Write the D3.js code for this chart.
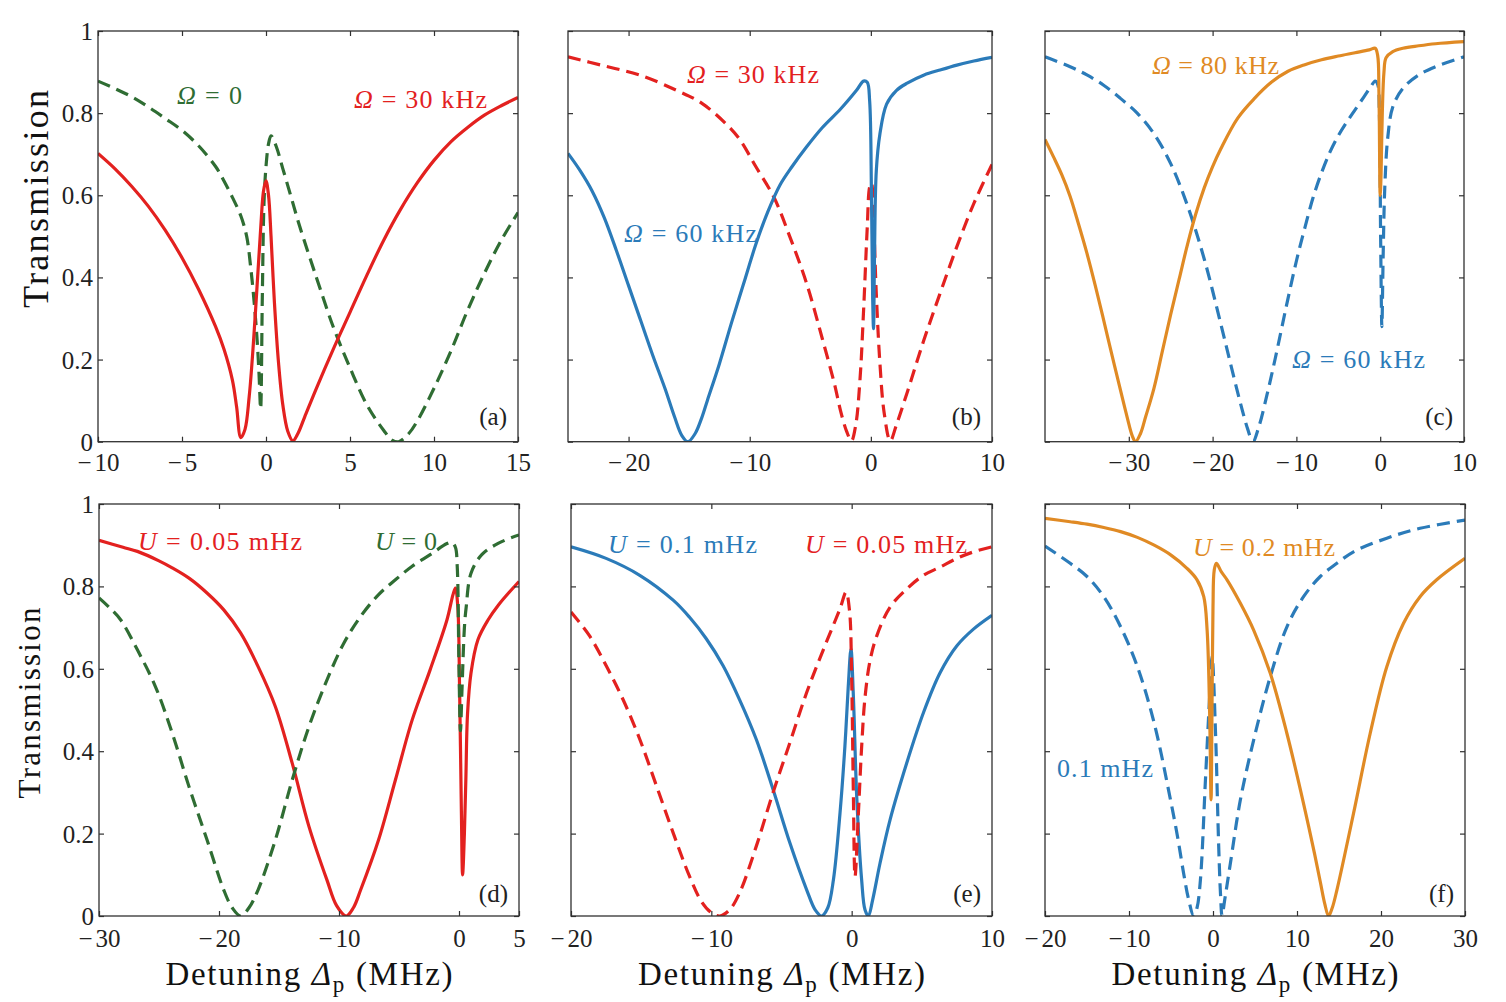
<!DOCTYPE html>
<html><head><meta charset="utf-8">
<script src="https://cdn.jsdelivr.net/npm/d3@7"></script>
<style>
html,body{margin:0;padding:0;background:#fff;}
svg{display:block;font-family:"Liberation Serif","Times New Roman",serif;}
</style></head><body>
<svg id="chart" width="1506" height="1002"></svg>
<script>
// ---------------- DATA ----------------
// y axis (transmission) shared by all panels
const yTickValues = [0, 0.2, 0.4, 0.6, 0.8, 1];
const yTickLabels = ["0", "0.2", "0.4", "0.6", "0.8", "1"];

// x-axis domains and tick values (detuning, MHz)
const xDomainA = [-10, 15], xTicksA = [-10, -5, 0, 5, 10, 15];
const xDomainB = [-25, 10], xTicksB = [-20, -10, 0, 10];
const xDomainC = [-40, 10], xTicksC = [-30, -20, -10, 0, 10];
const xDomainD = [-30, 5],  xTicksD = [-30, -20, -10, 0, 5];
const xDomainE = [-20, 10], xTicksE = [-20, -10, 0, 10];
const xDomainF = [-20, 30], xTicksF = [-20, -10, 0, 10, 20, 30];

// (a) Omega = 0 (dashed) and Omega = 30 kHz (solid)
const aOmega0 = [[-10,0.878],[-9,0.86],[-8,0.84],[-7,0.815],[-6,0.787],[-5,0.758],[-4,0.72],[-3,0.67],[-2.5,0.635],[-2,0.595],[-1.5,0.55],[-1.15,0.5],[-0.9,0.42],[-0.75,0.36],[-0.55,0.26],[-0.42,0.17],[-0.32,0.08],[-0.22,0.35],[-0.12,0.58],[0,0.67],[0.15,0.725],[0.3,0.745],[0.6,0.72],[1,0.665],[1.5,0.595],[2,0.525],[3,0.4],[4,0.28],[5,0.18],[6,0.09],[7,0.028],[7.5,0.004],[7.9,0.0],[8.5,0.02],[9,0.05],[10,0.13],[11,0.22],[12,0.32],[13,0.41],[14,0.49],[15,0.558]];
const aOmega30 = [[-10,0.702],[-9,0.665],[-8,0.622],[-7,0.573],[-6,0.515],[-5,0.448],[-4,0.37],[-3,0.28],[-2.5,0.225],[-2,0.15],[-1.75,0.085],[-1.5,0.01],[-1.25,0.03],[-1,0.11],[-0.75,0.24],[-0.5,0.40],[-0.3,0.53],[-0.15,0.61],[0,0.635],[0.15,0.6],[0.3,0.5],[0.5,0.34],[0.75,0.19],[1,0.09],[1.3,0.025],[1.6,0.002],[1.9,0.02],[2.3,0.06],[3,0.13],[4,0.225],[5,0.315],[6,0.405],[7,0.49],[8,0.565],[9,0.63],[10,0.685],[11,0.73],[12,0.765],[13,0.795],[14,0.818],[15,0.838]];

// (b) Omega = 30 kHz (dashed) and Omega = 60 kHz (solid)
const bOmega30 = [[-25,0.937],[-22,0.915],[-19,0.892],[-16,0.855],[-14,0.825],[-12,0.775],[-10.8,0.735],[-9.5,0.67],[-8,0.595],[-6.7,0.5],[-5.3,0.385],[-4,0.25],[-3,0.14],[-2.5,0.075],[-2,0.025],[-1.6,0.002],[-1.25,0.04],[-0.9,0.15],[-0.6,0.32],[-0.3,0.52],[-0.1,0.62],[0.05,0.63],[0.2,0.56],[0.45,0.36],[0.75,0.19],[1.1,0.07],[1.6,0.002],[2.1,0.04],[3,0.12],[4.35,0.245],[5.7,0.36],[7.1,0.475],[8.5,0.58],[10,0.675]];
const bOmega60 = [[-25,0.702],[-24,0.66],[-23,0.61],[-22,0.545],[-21,0.465],[-20,0.38],[-19,0.295],[-18,0.21],[-17,0.13],[-16.2,0.06],[-15.6,0.015],[-15.1,0.0],[-14.5,0.02],[-14,0.055],[-13.5,0.1],[-12.5,0.19],[-11.5,0.29],[-10.5,0.385],[-9.5,0.48],[-8.5,0.56],[-7.5,0.625],[-6.5,0.67],[-5.3,0.718],[-4,0.765],[-2.5,0.81],[-1.2,0.855],[-0.6,0.878],[-0.3,0.875],[-0.1,0.83],[0.05,0.6],[0.15,0.35],[0.22,0.275],[0.3,0.45],[0.45,0.66],[0.75,0.75],[1.3,0.822],[2.1,0.855],[3,0.873],[4.4,0.893],[5.7,0.905],[7.1,0.917],[8.5,0.927],[10,0.936]];

// (c) Omega = 60 kHz (dashed) and Omega = 80 kHz (solid)
const cOmega60 = [[-40,0.937],[-37,0.913],[-35,0.893],[-33,0.868],[-31,0.836],[-29,0.8],[-27,0.75],[-25,0.677],[-23,0.575],[-21,0.445],[-19,0.285],[-17.5,0.16],[-16.5,0.08],[-15.8,0.03],[-15.2,0.0],[-14.5,0.035],[-13.5,0.115],[-12.5,0.205],[-11.2,0.33],[-10,0.44],[-9,0.52],[-8,0.595],[-7,0.655],[-6,0.705],[-5,0.745],[-4,0.778],[-3,0.808],[-2,0.838],[-1.2,0.862],[-0.6,0.878],[-0.3,0.87],[-0.1,0.8],[0.05,0.5],[0.2,0.28],[0.35,0.45],[0.55,0.62],[0.9,0.74],[1.5,0.815],[2.7,0.86],[4.6,0.893],[6.6,0.913],[10,0.937]];
const cOmega80 = [[-40,0.736],[-39,0.694],[-38,0.65],[-37,0.597],[-36,0.53],[-35,0.459],[-34,0.38],[-33,0.296],[-32,0.21],[-31,0.126],[-30.2,0.06],[-29.6,0.015],[-29.2,0.0],[-28.6,0.02],[-28,0.06],[-27,0.13],[-26,0.22],[-25,0.31],[-24,0.395],[-23,0.48],[-22,0.555],[-21,0.618],[-20,0.67],[-19,0.714],[-17,0.788],[-15,0.836],[-13,0.875],[-11,0.902],[-9,0.918],[-7,0.93],[-5,0.939],[-3,0.947],[-1.3,0.954],[-0.6,0.958],[-0.3,0.94],[-0.15,0.85],[0,0.6],[0.1,0.65],[0.25,0.8],[0.45,0.9],[0.7,0.935],[1.5,0.95],[2.7,0.958],[4.6,0.964],[6.6,0.969],[10,0.974]];

// (d) U = 0 (dashed) and U = 0.05 mHz (solid)
const dU0 = [[-30,0.772],[-29,0.745],[-28.2,0.719],[-26.8,0.646],[-25.3,0.557],[-23.9,0.444],[-22.5,0.314],[-21,0.185],[-19.6,0.063],[-18.9,0.02],[-18.2,0.0],[-17.5,0.02],[-16.75,0.063],[-15.3,0.185],[-13.9,0.33],[-12.5,0.46],[-11,0.573],[-9.6,0.662],[-8.2,0.727],[-6.7,0.78],[-5.3,0.816],[-3.9,0.849],[-2.4,0.877],[-1,0.904],[-0.6,0.907],[-0.3,0.895],[-0.15,0.85],[0,0.6],[0.12,0.45],[0.25,0.55],[0.45,0.7],[0.6,0.75],[1.0,0.832],[1.9,0.877],[3.3,0.905],[5,0.925]];
const dU005 = [[-30,0.912],[-28,0.895],[-26.8,0.885],[-25,0.862],[-23.9,0.845],[-22.5,0.82],[-21,0.784],[-19.6,0.743],[-18.2,0.687],[-16.75,0.606],[-15.3,0.508],[-13.9,0.371],[-12.5,0.217],[-11,0.087],[-10.2,0.025],[-9.4,0.0],[-8.8,0.02],[-8.2,0.063],[-6.7,0.185],[-5.3,0.33],[-3.9,0.476],[-2.4,0.598],[-1,0.719],[-0.5,0.78],[-0.3,0.796],[-0.1,0.75],[0.05,0.55],[0.2,0.25],[0.3,0.1],[0.45,0.2],[0.57,0.33],[0.71,0.49],[1.0,0.59],[1.57,0.67],[2.43,0.719],[3.29,0.755],[5,0.812]];

// (e) U = 0.05 mHz (dashed) and U = 0.1 mHz (solid)
const eU005 = [[-20,0.738],[-18.7,0.681],[-17.5,0.608],[-16.3,0.526],[-15.1,0.429],[-13.9,0.315],[-12.7,0.2],[-11.55,0.096],[-10.7,0.035],[-10,0.008],[-9.4,0.0],[-8.7,0.015],[-8,0.055],[-6.8,0.169],[-5.6,0.3],[-4.4,0.421],[-3.2,0.543],[-2,0.648],[-0.83,0.746],[-0.4,0.786],[-0.15,0.74],[0,0.575],[0.12,0.3],[0.24,0.096],[0.48,0.25],[0.71,0.41],[0.95,0.53],[1.31,0.62],[1.79,0.68],[2.74,0.75],[3.93,0.794],[5.12,0.827],[6.31,0.847],[7.5,0.868],[8.7,0.884],[10,0.896]];
const eU01 = [[-20,0.896],[-17.5,0.868],[-15.1,0.827],[-12.7,0.766],[-11.55,0.725],[-10.36,0.673],[-9.17,0.608],[-8,0.526],[-6.8,0.429],[-5.6,0.307],[-4.4,0.177],[-3.2,0.063],[-2.6,0.015],[-2.14,0.0],[-1.7,0.02],[-1.3,0.088],[-0.83,0.25],[-0.48,0.413],[-0.24,0.559],[-0.05,0.648],[0.12,0.535],[0.36,0.29],[0.71,0.088],[0.95,0.015],[1.19,0.0],[1.5,0.04],[2.02,0.128],[2.74,0.234],[3.93,0.372],[5.12,0.494],[6.31,0.591],[7.5,0.656],[8.7,0.697],[10,0.73]];

// (f) U = 0.1 mHz (dashed) and U = 0.2 mHz (solid)
const fU01 = [[-20,0.898],[-17,0.856],[-15,0.824],[-13,0.775],[-11,0.702],[-9,0.605],[-7,0.468],[-5.06,0.282],[-4.2,0.19],[-3.5,0.104],[-2.9,0.04],[-2.3,0.0],[-1.9,0.02],[-1.5,0.087],[-0.9,0.33],[-0.4,0.532],[-0.11,0.63],[0.29,0.451],[0.68,0.168],[0.9,0.05],[1.08,0.0],[1.4,0.04],[2.07,0.128],[3.26,0.282],[4.84,0.427],[6.82,0.581],[8.8,0.702],[10.78,0.775],[12.77,0.824],[14.75,0.856],[16.73,0.884],[20.69,0.917],[24.65,0.941],[30,0.961]];
const fU02 = [[-20,0.965],[-17,0.957],[-15,0.951],[-13,0.943],[-11,0.933],[-9,0.919],[-7,0.9],[-5,0.876],[-3.1,0.844],[-1.9,0.816],[-1.1,0.775],[-0.7,0.694],[-0.4,0.492],[-0.23,0.282],[-0.12,0.5],[0.0,0.75],[0.15,0.84],[0.4,0.856],[1.0,0.835],[1.67,0.816],[3.26,0.759],[4.84,0.694],[6.82,0.589],[8.8,0.443],[10.78,0.273],[12.1,0.15],[12.8,0.08],[13.3,0.03],[13.76,0.0],[14.2,0.02],[14.75,0.063],[16.73,0.249],[18.71,0.443],[20.69,0.605],[22.67,0.71],[24.65,0.775],[26.63,0.816],[30,0.868]];

// ---------------- STYLE / LAYOUT ----------------
const RED = "#e3211f", GREEN = "#2f6d33", BLUE = "#2b7bb9", ORANGE = "#e08a24";
const FRAME = "#303030";

const panels = [
  {lab:"(a)", x0:98,  x1:518,  y0:31,  y1:441.7, dom:xDomainA, ticks:xTicksA, yLabels:true, row:0,
   series:[{d:aOmega0,c:GREEN,dash:true},{d:aOmega30,c:RED}],
   notes:[{x:177,y:104,w:65,sym:"Ω",rest:" = 0",c:GREEN},{x:354,y:108,w:133,sym:"Ω",rest:" = 30 kHz",c:RED}]},
  {lab:"(b)", x0:568, x1:992,  y0:31,  y1:441.7, dom:xDomainB, ticks:xTicksB, yLabels:false, row:0,
   series:[{d:bOmega30,c:RED,dash:true},{d:bOmega60,c:BLUE}],
   notes:[{x:687,y:83,w:132,sym:"Ω",rest:" = 30 kHz",c:RED},{x:624,y:242,w:133,sym:"Ω",rest:" = 60 kHz",c:BLUE}]},
  {lab:"(c)", x0:1045, x1:1464, y0:31, y1:441.7, dom:xDomainC, ticks:xTicksC, yLabels:false, row:0,
   series:[{d:cOmega60,c:BLUE,dash:true},{d:cOmega80,c:ORANGE}],
   notes:[{x:1152,y:74,w:127,sym:"Ω",rest:" = 80 kHz",c:ORANGE},{x:1292,y:368,w:133,sym:"Ω",rest:" = 60 kHz",c:BLUE}]},
  {lab:"(d)", x0:99,  x1:519,  y0:504, y1:916, dom:xDomainD, ticks:xTicksD, yLabels:true, row:1,
   series:[{d:dU005,c:RED},{d:dU0,c:GREEN,dash:true}],
   notes:[{x:138,y:550,w:164,sym:"U",rest:" = 0.05 mHz",c:RED},{x:375,y:550,w:62,sym:"U",rest:" = 0",c:GREEN}]},
  {lab:"(e)", x0:571, x1:992,  y0:504, y1:916, dom:xDomainE, ticks:xTicksE, yLabels:false, row:1,
   series:[{d:eU01,c:BLUE},{d:eU005,c:RED,dash:true}],
   notes:[{x:608,y:553,w:149,sym:"U",rest:" = 0.1 mHz",c:BLUE},{x:805,y:553,w:162,sym:"U",rest:" = 0.05 mHz",c:RED}]},
  {lab:"(f)", x0:1045, x1:1465, y0:504, y1:916, dom:xDomainF, ticks:xTicksF, yLabels:false, row:1,
   series:[{d:fU01,c:BLUE,dash:true},{d:fU02,c:ORANGE}],
   notes:[{x:1193,y:556,w:142,sym:"U",rest:" = 0.2 mHz",c:ORANGE},{x:1057,y:777,w:96,sym:"",rest:"0.1 mHz",c:BLUE}]}
];

const svg = d3.select("#chart");
svg.append("rect").attr("width",1506).attr("height",1002).attr("fill","#fff");
const defs = svg.append("defs");

panels.forEach((p, i) => {
  const x = d3.scaleLinear().domain(p.dom).range([p.x0, p.x1]);
  const y = d3.scaleLinear().domain([0, 1]).range([p.y1, p.y0]);
  const g = svg.append("g");

  defs.append("clipPath").attr("id","clip"+i).append("rect")
    .attr("x",p.x0).attr("y",p.y0).attr("width",p.x1-p.x0).attr("height",p.y1-p.y0);

  const line = d3.line().x(d => x(d[0])).y(d => y(d[1])).curve(d3.curveCatmullRom.alpha(0.5));
  const cg = g.append("g").attr("clip-path","url(#clip"+i+")");
  p.series.forEach(s => {
    cg.append("path").attr("d", line(s.d)).attr("fill","none")
      .attr("stroke", s.c).attr("stroke-width", 3.2)
      .attr("stroke-linejoin","round")
      .attr("stroke-dasharray", s.dash ? "13,7" : null);
  });

  // axes (ticks inward on all sides)
  const tl = 5;
  const axB = d3.axisBottom(x).tickValues(p.ticks).tickSizeInner(-tl).tickSizeOuter(0).tickFormat(v => String(Math.abs(v)));
  const axT = d3.axisTop(x).tickValues(p.ticks).tickSizeInner(-tl).tickSizeOuter(0).tickFormat("");
  const axL = d3.axisLeft(y).tickValues(yTickValues).tickSizeInner(-tl).tickSizeOuter(0)
    .tickFormat((d,k) => p.yLabels ? yTickLabels[k] : "").tickPadding(5);
  const axR = d3.axisRight(y).tickValues(yTickValues).tickSizeInner(-tl).tickSizeOuter(0).tickFormat("");

  const gb = g.append("g").attr("transform",`translate(0,${p.y1})`).call(axB);
  g.append("g").attr("transform",`translate(0,${p.y0})`).call(axT);
  const gl = g.append("g").attr("transform",`translate(${p.x0},0)`).call(axL);
  g.append("g").attr("transform",`translate(${p.x1},0)`).call(axR);

  g.selectAll(".domain").remove();
  g.selectAll(".tick line").attr("stroke",FRAME).attr("stroke-width",1.2);
  gb.selectAll(".tick text").attr("font-size",25).attr("fill","#222")
    .attr("font-family","Liberation Serif, serif")
    .attr("dy", null).attr("y", p.row === 0 ? 29 : 31)
    .each(function(d){
      if (d < 0) {           // minus sign with a small gap, as in the original
        const t = d3.select(this), num = t.text();
        t.text(null);
        t.append("tspan").text("\u2212");
        t.append("tspan").attr("dx", 3).text(num);
      }
    });
  gl.selectAll(".tick text").attr("font-size",25).attr("fill","#222")
    .attr("font-family","Liberation Serif, serif").attr("dy","0.34em");

  // frame
  g.append("rect").attr("x",p.x0).attr("y",p.y0).attr("width",p.x1-p.x0).attr("height",p.y1-p.y0)
    .attr("fill","none").attr("stroke",FRAME).attr("stroke-width",1.3);

  // panel label
  g.append("text").attr("x",p.x1-11).attr("y", p.row === 0 ? p.y1-17 : p.y1-14)
    .attr("text-anchor","end").attr("font-size",25).attr("fill","#222").text(p.lab);

  // annotations
  p.notes.forEach(n => {
    const t = g.append("text").attr("x",n.x).attr("y",n.y).attr("fill",n.c)
      .attr("font-size",26).attr("textLength",n.w).attr("lengthAdjust","spacing");
    if (n.sym) t.append("tspan").attr("font-style","italic").text(n.sym);
    t.append("tspan").text(n.rest);
  });

  // x label (bottom row)
  if (p.row === 1) {
    const xl = g.append("text").attr("x",(p.x0+p.x1)/2).attr("y",985).attr("text-anchor","middle")
      .attr("font-size",33).attr("fill","#111").attr("textLength",287).attr("lengthAdjust","spacing");
    xl.append("tspan").text("Detuning ");
    xl.append("tspan").attr("font-style","italic").text("Δ");
    xl.append("tspan").attr("font-size",23).attr("dy",7).text("p");
    xl.append("tspan").attr("dy",-7).text(" (MHz)");
  }
  // y label (left column)
  if (p.yLabels) {
    const big = p.row === 0;
    g.append("text").attr("transform",`translate(${big?48:39.5},${big?199:703}) rotate(-90)`)
      .attr("text-anchor","middle").attr("font-size",big?36:31).attr("fill","#111")
      .attr("textLength",big?218:191).attr("lengthAdjust","spacing").text("Transmission");
  }
});
</script>
</body></html>
